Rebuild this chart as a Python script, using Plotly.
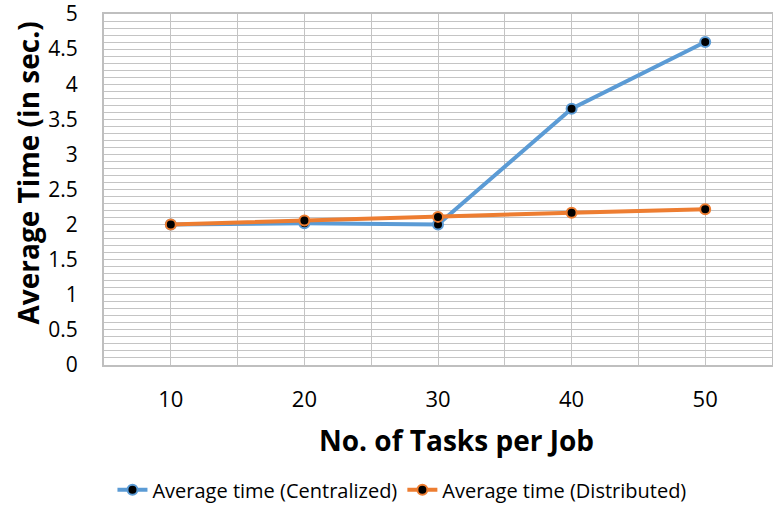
import plotly.graph_objects as go

TASKS = [10, 20, 30, 40, 50]
CENTRALIZED = [2.0, 2.02, 2.0, 3.65, 4.6]
DISTRIBUTED = [2.0, 2.06, 2.11, 2.17, 2.22]
Y_TICKS = [0, 0.5, 1, 1.5, 2, 2.5, 3, 3.5, 4, 4.5, 5]
Y_TICK_TEXT = ["0", "0.5", "1", "1.5", "2", "2.5", "3", "3.5", "4", "4.5", "5"]

COLOR_BLUE = "#5B9BD5"
COLOR_ORANGE = "#ED7D31"
COLOR_GRID = "#c4c4c4"
FONT = "Open Sans, Lato, sans-serif"

fig = go.Figure()
for name, vals, color in [
    ("Average time (Centralized)", CENTRALIZED, COLOR_BLUE),
    ("Average time (Distributed)", DISTRIBUTED, COLOR_ORANGE),
]:
    fig.add_trace(
        go.Scatter(
            x=TASKS,
            y=vals,
            name=name,
            mode="lines+markers",
            line=dict(color=color, width=4),
            marker=dict(color="black", size=10, line=dict(color=color, width=2)),
        )
    )

fig.update_layout(
    width=773,
    height=506,
    paper_bgcolor="white",
    plot_bgcolor="white",
    margin=dict(l=104, r=1, t=14, b=141),
    font=dict(family=FONT, size=22, color="black"),
    showlegend=True,
    legend=dict(
        orientation="h",
        xref="container",
        x=0.52,
        xanchor="center",
        yref="container",
        y=0.032,
        yanchor="middle",
        font=dict(size=20),
        tracegroupgap=0,
    ),
)
fig.update_xaxes(
    range=[5, 55],
    tickvals=TASKS,
    showgrid=True,
    gridcolor=COLOR_GRID,
    minor=dict(dtick=5, tick0=5, showgrid=True, gridcolor=COLOR_GRID),
    showline=True,
    mirror=True,
    linecolor="#bfbfbf",
    linewidth=2,
    zeroline=False,
    ticks="outside",
    ticklen=14,
    tickcolor="rgba(0,0,0,0)",
    automargin=False,
)
fig.update_yaxes(
    range=[0, 5],
    tickvals=Y_TICKS,
    ticktext=Y_TICK_TEXT,
    tickfont=dict(size=21),
    showgrid=True,
    gridcolor=COLOR_GRID,
    minor=dict(dtick=0.1, tick0=0, showgrid=True, gridcolor=COLOR_GRID),
    showline=True,
    mirror=True,
    linecolor="#bfbfbf",
    linewidth=2,
    zeroline=False,
    ticks="outside",
    ticklen=20,
    tickcolor="rgba(0,0,0,0)",
    ticklabeloverflow="allow",
    automargin=False,
)

# axis titles placed as annotations to pin their position
fig.add_annotation(
    text="<b>No. of Tasks per Job</b>",
    xref="paper", yref="paper", x=0.528, y=-0.214,
    xanchor="center", yanchor="middle", showarrow=False,
    font=dict(size=28),
)
fig.add_annotation(
    text="<b>Average Time (in sec.)</b>",
    xref="paper", yref="paper", x=-0.114, y=0.548,
    xanchor="center", yanchor="middle", showarrow=False, textangle=-90,
    font=dict(size=28),
)

# drop the default page margin so the figure fills the window exactly
fig.write_html(
    "out.html",
    config={"displayModeBar": False},
    post_script="document.body.style.margin='0';",
)
